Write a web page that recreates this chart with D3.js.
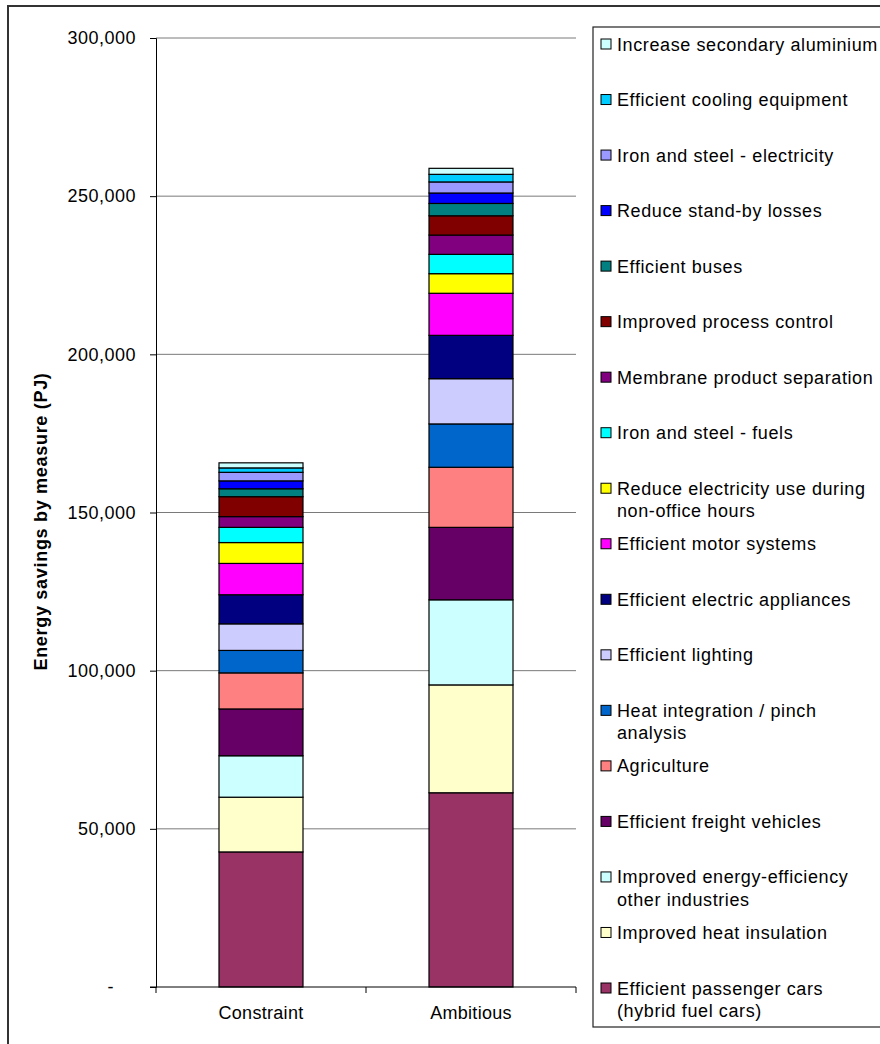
<!DOCTYPE html>
<html>
<head>
<meta charset="utf-8">
<script src="https://cdn.jsdelivr.net/npm/d3@7"></script>
<style>
  html, body { margin: 0; padding: 0; background: #fff; }
  svg { display: block; }
  text { font-family: "Liberation Sans", Arial, sans-serif; fill: #000; }
</style>
</head>
<body>
<svg id="chart" width="880" height="1044"></svg>
<script>
// Scenarios on the x axis
const scenarios = ["Constraint", "Ambitious"];

// Measures, bottom of the stack first
const measures = [
  "Efficient passenger cars (hybrid fuel cars)",
  "Improved heat insulation",
  "Improved energy-efficiency other industries",
  "Efficient freight vehicles",
  "Agriculture",
  "Heat integration / pinch analysis",
  "Efficient lighting",
  "Efficient electric appliances",
  "Efficient motor systems",
  "Reduce electricity use during non-office hours",
  "Iron and steel - fuels",
  "Membrane product separation",
  "Improved process control",
  "Efficient buses",
  "Reduce stand-by losses",
  "Iron and steel - electricity",
  "Efficient cooling equipment",
  "Increase secondary aluminium"
];

// Legend wording, split over lines
const legendLines = [
  ["Efficient passenger cars", "(hybrid fuel cars)"],
  ["Improved heat insulation"],
  ["Improved energy-efficiency", "other industries"],
  ["Efficient freight vehicles"],
  ["Agriculture"],
  ["Heat integration / pinch", "analysis"],
  ["Efficient lighting"],
  ["Efficient electric appliances"],
  ["Efficient motor systems"],
  ["Reduce electricity use during", "non-office hours"],
  ["Iron and steel - fuels"],
  ["Membrane product separation"],
  ["Improved process control"],
  ["Efficient buses"],
  ["Reduce stand-by losses"],
  ["Iron and steel - electricity"],
  ["Efficient cooling equipment"],
  ["Increase secondary aluminium"]
];

// Energy savings per measure (PJ)
const constraintValues = [42700, 17300, 13100, 14800, 11400, 7100, 8400, 9200, 9900,
                          6600, 4800, 3400, 6300, 2500, 2500, 2700, 1400, 1600];
const ambitiousValues  = [61400, 34100, 26900, 22900, 19000, 13700, 14300, 13700, 13300,
                          6200, 6100, 6100, 6100, 3900, 3300, 3500, 2400, 1900];

const colors = ["#993366", "#FFFFCC", "#CCFFFF", "#660066", "#FF8080", "#0066CC",
                "#CCCCFF", "#000080", "#FF00FF", "#FFFF00", "#00FFFF", "#800080",
                "#800000", "#008080", "#0000FF", "#9999FF", "#00CCFF", "#CCFFFF"];

const yTicks = [0, 50000, 100000, 150000, 200000, 250000, 300000];
const yTitle = "Energy savings by measure (PJ)";

// Build rows for d3.stack
const rows = scenarios.map((s, i) => {
  const r = { scenario: s };
  const vals = i === 0 ? constraintValues : ambitiousValues;
  measures.forEach((m, j) => { r[m] = vals[j]; });
  return r;
});

const svg = d3.select("#chart");
const plot = { left: 156, right: 576, top: 38, bottom: 987 };

// Outer chart frame
svg.append("rect")
  .attr("x", 8).attr("y", 6).attr("width", 900).attr("height", 1060)
  .attr("fill", "none").attr("stroke", "#333").attr("stroke-width", 2);

const x = d3.scaleBand().domain(scenarios).range([plot.left, plot.right]).paddingInner(0.6).paddingOuter(0.3);
const y = d3.scaleLinear().domain([0, 300000]).range([plot.bottom, plot.top]);

// Horizontal gridlines
svg.append("g").selectAll("line")
  .data(yTicks.filter(t => t > 0))
  .join("line")
  .attr("x1", plot.left).attr("x2", plot.right)
  .attr("y1", d => y(d)).attr("y2", d => y(d))
  .attr("stroke", "#7a7a7a").attr("stroke-width", 1);

// Stacked bars
const stack = d3.stack().keys(measures);
const series = stack(rows);

svg.append("g").selectAll("g")
  .data(series)
  .join("g")
  .attr("fill", (d, i) => colors[i])
  .selectAll("rect")
  .data(d => d)
  .join("rect")
  .attr("x", d => x(d.data.scenario))
  .attr("width", x.bandwidth())
  .attr("y", d => y(d[1]))
  .attr("height", d => y(d[0]) - y(d[1]))
  .attr("stroke", "#000").attr("stroke-width", 1.2);

// Y axis
const yAxis = d3.axisLeft(y)
  .tickValues(yTicks)
  .tickSize(6)
  .tickPadding(14)
  .tickFormat(d => d === 0 ? "-" : d3.format(",")(d));

const gy = svg.append("g").attr("transform", `translate(${plot.left},0)`).call(yAxis);
gy.select(".domain").attr("stroke", "#000").attr("stroke-width", 1);
gy.selectAll(".tick line").attr("stroke", "#000");
gy.selectAll(".tick text")
  .attr("font-size", 18).attr("letter-spacing", 0.5)
  .attr("font-family", "'Liberation Sans', Arial, sans-serif")
  .attr("fill", "#000")
  .attr("dx", d => d === 0 ? -22 : 0);

// X axis
const xEdges = [plot.left, (plot.left + plot.right) / 2, plot.right];
svg.append("line")
  .attr("x1", plot.left - 6).attr("x2", plot.right)
  .attr("y1", plot.bottom).attr("y2", plot.bottom)
  .attr("stroke", "#000").attr("stroke-width", 1);
svg.append("g").selectAll("line")
  .data(xEdges)
  .join("line")
  .attr("x1", d => d).attr("x2", d => d)
  .attr("y1", plot.bottom).attr("y2", plot.bottom + 6)
  .attr("stroke", "#000");
svg.append("g").selectAll("text")
  .data(scenarios)
  .join("text")
  .attr("x", d => x(d) + x.bandwidth() / 2)
  .attr("y", 1019)
  .attr("text-anchor", "middle")
  .attr("font-size", 18).attr("letter-spacing", 0.3)
  .text(d => d);

// Y axis title
svg.append("text")
  .attr("transform", `translate(47,${(plot.top + plot.bottom) / 2 + 9}) rotate(-90)`)
  .attr("text-anchor", "middle")
  .attr("font-size", 18).attr("font-weight", "bold").attr("letter-spacing", 0.7)
  .text(yTitle);

// Legend
const legend = svg.append("g");
legend.append("rect")
  .attr("x", 593).attr("y", 27).attr("width", 320).attr("height", 1000)
  .attr("fill", "#fff").attr("stroke", "#222").attr("stroke-width", 1.2);

const legendOrder = d3.range(measures.length).reverse();
const rowStep = (988 - 44) / (measures.length - 1);
const items = legend.selectAll("g.item")
  .data(legendOrder)
  .join("g")
  .attr("class", "item")
  .attr("transform", (d, i) => `translate(0,${44 + i * rowStep})`);

items.append("rect")
  .attr("x", 601).attr("y", -5).attr("width", 10).attr("height", 10)
  .attr("fill", d => colors[d]).attr("stroke", "#000").attr("stroke-width", 1);

items.each(function(d) {
  const t = d3.select(this).append("text")
    .attr("x", 617).attr("y", 6.5)
    .attr("font-size", 18).attr("letter-spacing", 0.6);
  legendLines[d].forEach((line, k) => {
    t.append("tspan").attr("x", 617).attr("dy", k === 0 ? 0 : 22.5).text(line);
  });
});
</script>
</body>
</html>
